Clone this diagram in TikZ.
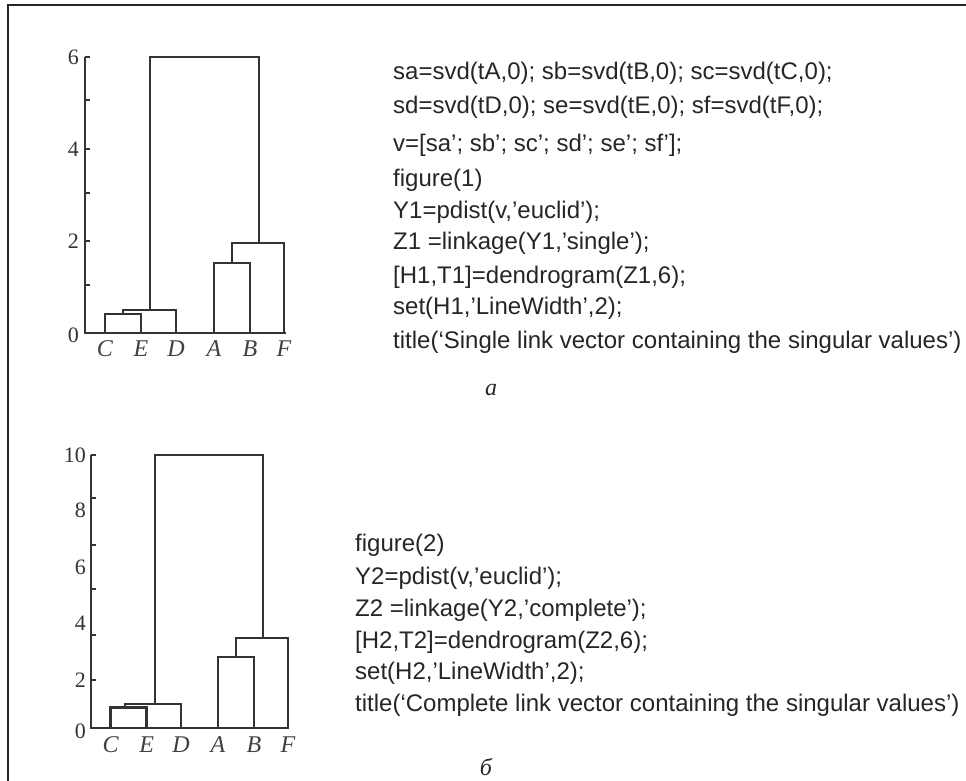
\documentclass[tikz,border=0pt]{standalone}
\usepackage{fontspec}
\setmainfont{Liberation Serif}
\newfontfamily\codefont{Liberation Sans}
\begin{document}
\begin{tikzpicture}[x=1pt,y=-1pt,
  frameline/.style={draw=black!85,line width=1.8pt},
  axisline/.style={draw=black!80,line width=1.8pt},
  tickline/.style={draw=black!80,line width=1.2pt},
  linkline/.style={draw=black!80,line width=2.6pt,line cap=rect},
  ticklbl/.style={anchor=east,inner sep=0pt,font=\fontsize{22}{24}\selectfont,text=black!80},
  leaflbl/.style={anchor=center,inner sep=0pt,font=\fontsize{24}{26}\selectfont\itshape,text=black!75},
  codetext/.style={anchor=west,inner sep=0pt,font=\codefont\fontsize{24}{27}\selectfont,text=black!85},
  sublbl/.style={anchor=center,inner sep=0pt,font=\fontsize{24}{26}\selectfont\itshape,text=black!85}]
\useasboundingbox (0,0) rectangle (966,781);
\fill[white] (0,0) rectangle (966,781);

% outer frame (top and left edges)
\draw[frameline] (8,781) -- (8,5) -- (966,5);

% ---------------- upper dendrogram (single link) ----------------
\draw[axisline] (85,57) -- (85,333) -- (286,333);
\foreach \yy in {57,100,149,193,241,285}
  \draw[tickline] (85,\yy) -- (90,\yy);
\node[ticklbl] (t6) at (79,57) {6};
\node[ticklbl] (t4) at (79,149) {4};
\node[ticklbl] (t2) at (79,241) {2};
\node[ticklbl] (t0) at (79,335) {0};

\coordinate (uC) at (105,333);
\coordinate (uE) at (141,333);
\coordinate (uD) at (176,333);
\coordinate (uA) at (214,333);
\coordinate (uB) at (250,333);
\coordinate (uF) at (284,333);
\node[leaflbl] (lC) at (105,349) {C};
\node[leaflbl] (lE) at (141,349) {E};
\node[leaflbl] (lD) at (176,349) {D};
\node[leaflbl] (lA) at (214,349) {A};
\node[leaflbl] (lB) at (250,349) {B};
\node[leaflbl] (lF) at (284,349) {F};

\draw[linkline] (uC) |- (141,314) -- (uE);
\draw[linkline] (123,314) |- (176,310) -- (uD);
\draw[linkline] (uA) |- (250,263) -- (uB);
\draw[linkline] (232,263) |- (284,243) -- (uF);
\draw[linkline] (150,310) |- (259,57) -- (259,243);

% code listing, part a
\node[codetext] (c1) at (393,73) {sa=svd(tA,0); sb=svd(tB,0); sc=svd(tC,0);};
\node[codetext] (c2) at (393,107) {sd=svd(tD,0); se=svd(tE,0); sf=svd(tF,0);};
\node[codetext] (c3) at (393,145) {v=[sa’; sb’; sc’; sd’; se’; sf’];};
\node[codetext] (c4) at (393,180) {figure(1)};
\node[codetext] (c5) at (393,212) {Y1=pdist(v,’euclid’);};
\node[codetext] (c6) at (393,243) {Z1 =linkage(Y1,’single’);};
\node[codetext] (c7) at (393,277) {[H1,T1]=dendrogram(Z1,6);};
\node[codetext] (c8) at (393,308) {set(H1,’LineWidth’,2);};
\node[codetext] (c9) at (393,342) {title(‘Single link vector containing the singular values’)};
\node[sublbl] (subA) at (491,390) {a};

% ---------------- lower dendrogram (complete link) ----------------
\draw[axisline] (90.7,455) -- (90.7,728) -- (288,728);
\foreach \yy in {455,498,545,589,635,680}
  \draw[tickline] (90.7,\yy) -- (95.7,\yy);
\node[ticklbl] (s10) at (86,455) {10};
\node[ticklbl] (s8) at (86,510) {8};
\node[ticklbl] (s6) at (86,567) {6};
\node[ticklbl] (s4) at (86,623) {4};
\node[ticklbl] (s2) at (86,680) {2};
\node[ticklbl] (s0) at (86,731) {0};

\coordinate (dC) at (110.7,728);
\coordinate (dE) at (146.7,728);
\coordinate (dD) at (181,728);
\coordinate (dA) at (218,728);
\coordinate (dB) at (254,728);
\coordinate (dF) at (288,728);
\node[leaflbl] (mC) at (110.7,745) {C};
\node[leaflbl] (mE) at (146.7,745) {E};
\node[leaflbl] (mD) at (181,745) {D};
\node[leaflbl] (mA) at (218,745) {A};
\node[leaflbl] (mB) at (254,745) {B};
\node[leaflbl] (mF) at (288,745) {F};

\draw[linkline] (dC) |- (146.7,707.7) -- (dE);
\draw[linkline] (125,707.7) |- (181,704) -- (dD);
\draw[linkline] (dA) |- (254,657) -- (dB);
\draw[linkline] (236,657) |- (288,638) -- (dF);
\draw[linkline] (155,704) |- (263,455) -- (263,638);

% code listing, part b
\node[codetext] (e1) at (355,545) {figure(2)};
\node[codetext] (e2) at (355,578) {Y2=pdist(v,’euclid’);};
\node[codetext] (e3) at (355,610) {Z2 =linkage(Y2,’complete’);};
\node[codetext] (e4) at (355,642) {[H2,T2]=dendrogram(Z2,6);};
\node[codetext] (e5) at (355,673) {set(H2,’LineWidth’,2);};
\node[codetext] (e6) at (355,705) {title(‘Complete link vector containing the singular values’)};
\node[sublbl] (subB) at (486,767) {б};
\end{tikzpicture}
\end{document}
